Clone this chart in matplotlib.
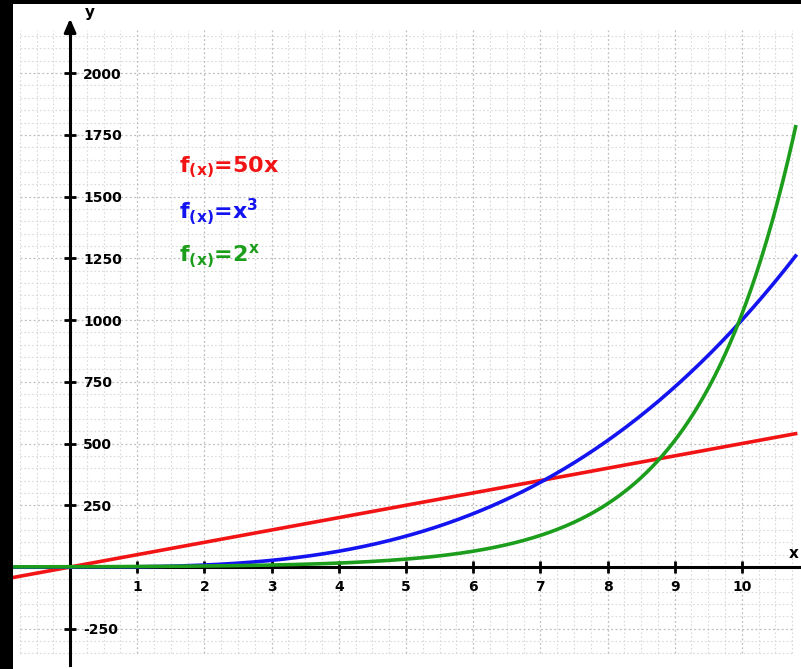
import matplotlib
matplotlib.use('Agg')
import numpy as np
import matplotlib.pyplot as plt
from matplotlib.ticker import FixedLocator

plt.rcParams['axes.unicode_minus'] = False

# curve domain and labels
x_start, x_end = -0.85, 10.8
x_ticks = [1, 2, 3, 4, 5, 6, 7, 8, 9, 10]
y_ticks = [-250, 250, 500, 750, 1000, 1250, 1500, 1750, 2000]
labels = [r'$\mathbf{f_{(x)}}$=50x', r'$\mathbf{f_{(x)}}$=x$^{\mathbf{3}}$', r'$\mathbf{f_{(x)}}$=2$^{\mathbf{x}}$']
colors = ['#f21414', '#1414f0', '#1c9e1c']
label_pos = [(1.62, 1620), (1.62, 1440), (1.62, 1260)]

# grid box
gx0, gx1 = -0.75, 10.75
gy0, gy1 = -350, 2175


def main():
    fig = plt.figure(figsize=(8.01, 6.69), dpi=100, facecolor='black')
    ax = fig.add_axes([13 / 801, 0, (801 - 13) / 801, (669 - 4) / 669])
    ax.set_facecolor('white')
    ax.set_xlim(-0.85, 10.88)
    ax.set_ylim(-413, 2280)

    # dotted grid, only inside the box
    xs = np.arange(gx0, gx1 + 0.01, 0.25)
    ys_ = np.arange(-350, gy1 + 1, 50)
    minor_x = [v for v in xs if abs(v - round(v)) > 1e-6]
    major_x = [v for v in xs if abs(v - round(v)) < 1e-6]
    minor_y = [v for v in ys_ if v % 250 != 0]
    major_y = [v for v in ys_ if v % 250 == 0]
    dots = (0, (1.5, 2))
    ax.vlines(minor_x, gy0, gy1, color='#dadada', lw=0.8, ls=dots, zorder=0)
    ax.hlines(minor_y, gx0, gx1, color='#dadada', lw=0.8, ls=dots, zorder=0)
    ax.vlines(major_x, gy0, gy1, color='#bdbdbd', lw=0.9, ls=dots, zorder=0)
    ax.hlines(major_y, gx0, gx1, color='#bdbdbd', lw=0.9, ls=dots, zorder=0)

    x = np.linspace(x_start, x_end, 600)
    ys = [50 * x, x ** 3, 2 ** x]
    for y, c in zip(ys, colors):
        ax.plot(x, y, color=c, lw=2.6, zorder=3)

    # axes through origin
    for s in ['left', 'top']:
        ax.spines[s].set_visible(False)
    ax.spines['right'].set_position(('data', 0))
    ax.spines['bottom'].set_position(('data', 0))
    ax.spines['right'].set_linewidth(2.2)
    ax.spines['bottom'].set_linewidth(2.2)
    ax.spines['right'].set_bounds(-397, 2200)
    ax.yaxis.tick_right()
    ax.annotate('', xy=(0, 2232), xytext=(0, 2150),
                arrowprops=dict(arrowstyle='-|>,head_length=0.8,head_width=0.35', lw=2.2, color='black'))

    ax.xaxis.set_major_locator(FixedLocator(x_ticks))
    ax.yaxis.set_major_locator(FixedLocator(y_ticks))
    ax.tick_params(which='major', direction='inout', length=9, width=2, pad=5,
                   labelsize=10)
    for lab in ax.get_xticklabels() + ax.get_yticklabels():
        lab.set_fontweight('bold')

    ax.text(0.22, 2245, 'y', fontsize=11, fontweight='bold', va='center')
    ax.text(10.7, 55, 'x', fontsize=11, fontweight='bold', va='center')

    for lab, c, (tx, ty) in zip(labels, colors, label_pos):
        ax.text(tx, ty, lab, color=c, fontsize=16, fontweight='bold', va='center')

    plt.savefig('out.png', dpi=100, facecolor='black')


if __name__ == "__main__":
    main()
